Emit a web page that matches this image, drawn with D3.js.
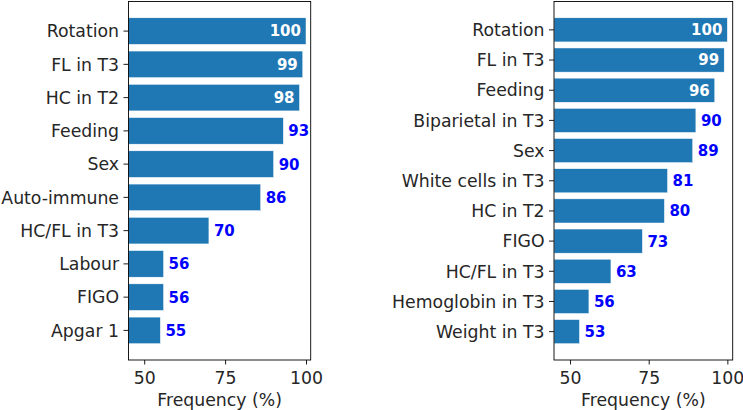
<!DOCTYPE html>
<html><head><meta charset="utf-8">
<script src="https://cdn.jsdelivr.net/npm/d3@7"></script>
<style>body{margin:0;background:#fff}svg{display:block}text{font-family:"DejaVu Sans",sans-serif}</style>
</head><body>
<svg id="c" width="743" height="410"></svg>
<script>
const leftCategories = ["Rotation","FL in T3","HC in T2","Feeding","Sex","Auto-immune","HC/FL in T3","Labour","FIGO","Apgar 1"];
const leftValues = [100,99,98,93,90,86,70,56,56,55];
const rightCategories = ["Rotation","FL in T3","Feeding","Biparietal in T3","Sex","White cells in T3","HC in T2","FIGO","HC/FL in T3","Hemoglobin in T3","Weight in T3"];
const rightValues = [100,99,96,90,89,81,80,73,63,56,53];
const xTicks = [50,75,100];
const xLabel = "Frequency (%)";

const svg = d3.select("#c");
const barColor = "#1f77b4";
const textColor = "#262626";
const FS = 17.3;

function panel(cats, vals, box, xdom, insideMin) {
  const g = svg.append("g");
  const x = d3.scaleLinear().domain(xdom).range([box.x0, box.x1]);
  const n = cats.length;
  const y = d3.scaleLinear().domain([-0.4 - 0.05*(n-0.2), n - 0.6 + 0.05*(n-0.2)]).range([box.y0, box.y1]);
  g.selectAll("rect.bar").data(vals).join("rect")
    .attr("x", x(xdom[0]))
    .attr("y", (d,i)=>y(i-0.4))
    .attr("width", d=>x(d)-x(xdom[0]))
    .attr("height", (d,i)=>y(i+0.4)-y(i-0.4))
    .attr("fill", barColor)
    .attr("stroke", "#fff").attr("stroke-width", 0.5);
  g.selectAll("text.val").data(vals).join("text")
    .attr("x", d => d >= insideMin ? x(d)-5 : x(d)+5)
    .attr("y", (d,i)=>y(i))
    .attr("dy", "0.36em")
    .attr("text-anchor", d => d >= insideMin ? "end" : "start")
    .attr("fill", d => d >= insideMin ? "#fff" : "#0000ff")
    .attr("font-weight", "bold")
    .attr("font-size", 15)
    .text(d=>d);
  const yAxis = g.append("g");
  cats.forEach((c,i)=>{
    yAxis.append("line").attr("x1", box.x0-5).attr("x2", box.x0).attr("y1", y(i)).attr("y2", y(i)).attr("stroke","#000").attr("stroke-width",0.9);
    yAxis.append("text").attr("x", box.x0-9.5).attr("y", y(i)).attr("dy","0.36em").attr("text-anchor","end")
      .attr("font-size",FS).attr("fill",textColor).text(c);
  });
  const xa = d3.axisBottom(x).tickValues(xTicks).tickSize(4.5).tickPadding(7);
  const ax = g.append("g").attr("transform", `translate(0,${box.y1})`).call(xa);
  ax.select(".domain").remove();
  ax.selectAll("line").attr("stroke","#000").attr("stroke-width",0.9);
  ax.selectAll("text").attr("font-size",FS).attr("fill",textColor).attr("font-family","DejaVu Sans");
  g.append("text").attr("x",(box.x0+box.x1)/2).attr("y", 405.5).attr("text-anchor","middle")
    .attr("font-size",FS).attr("fill",textColor).text(xLabel);
  g.append("rect").attr("x",box.x0).attr("y",box.y0).attr("width",box.x1-box.x0).attr("height",box.y1-box.y0)
    .attr("fill","none").attr("stroke","#000").attr("stroke-width",0.9);
}

panel(leftCategories, leftValues, {x0:128.5, x1:310.7, y0:1.5, y1:360}, [45.15, 101.45], 98);
panel(rightCategories, rightValues, {x0:554, x1:732.7, y0:1.5, y1:360}, [44.9, 101.7], 96);
</script>
</body></html>
